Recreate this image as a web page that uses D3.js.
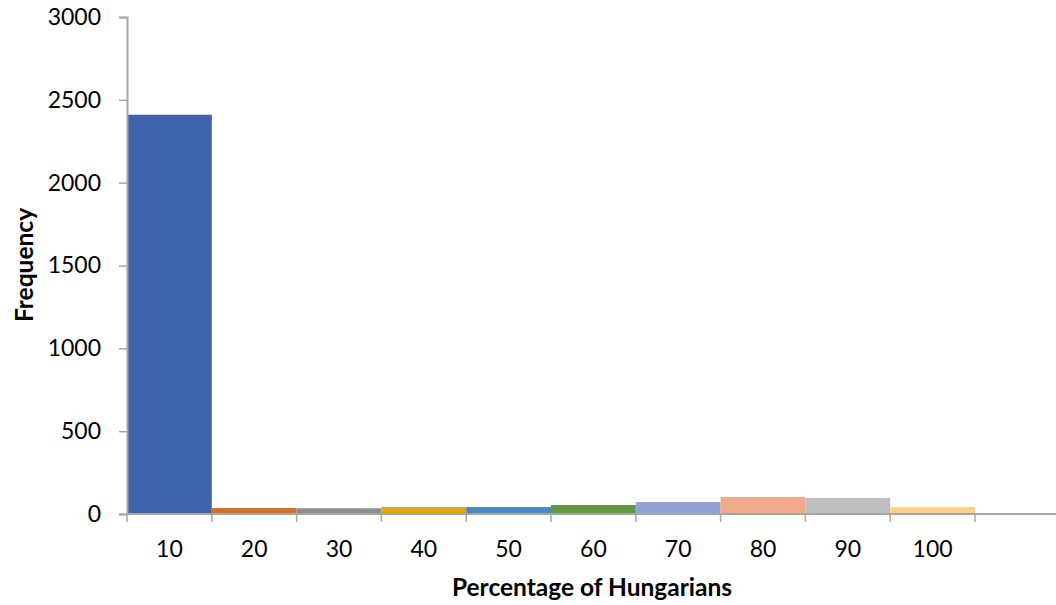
<!DOCTYPE html>
<html>
<head>
<meta charset="utf-8">
<script src="https://cdn.jsdelivr.net/npm/d3@7"></script>
<style>
  html, body { margin: 0; padding: 0; background: #fff; }
  svg { display: block; }
</style>
</head>
<body>
<svg id="chart" width="1056" height="605"></svg>
<script>
// Data
const categories = ["10", "20", "30", "40", "50", "60", "70", "80", "90", "100", ""];
const frequencies = [2410, 36, 35, 42, 42, 54, 72, 103, 97, 42, 0];
const barColors = ["#3C63AC", "#D2702C", "#8F8F8F", "#E0AA00", "#4A88C2", "#5F993C",
                   "#8FA3D5", "#F0A989", "#BEBEBE", "#FDD187", "#FFFFFF"];
const yTicks = [0, 500, 1000, 1500, 2000, 2500, 3000];
const xTitle = "Percentage of Hungarians";
const yTitle = "Frequency";

(function () {
const svg = d3.select("#chart");
const mLeft = 127, mTop = 17, mBottom = 514;
const step = 84.8;
const mRight = mLeft + step * categories.length;

const x = d3.scaleBand().domain(categories.map((c, i) => i)).range([mLeft, mRight]).padding(0);
const y = d3.scaleLinear().domain([0, 3000]).range([mBottom, mTop]);

// Bars
svg.append("g").selectAll("rect")
  .data(frequencies)
  .join("rect")
  .attr("x", (d, i) => x(i))
  .attr("width", x.bandwidth())
  .attr("y", d => y(d))
  .attr("height", d => y(0) - y(d))
  .attr("fill", (d, i) => barColors[i]);

const axisColor = "#A6A6A6";
const font = "Lato, 'Open Sans', sans-serif";

// Y axis
const yAxis = svg.append("g")
  .attr("transform", `translate(${mLeft},0)`)
  .call(d3.axisLeft(y).tickValues(yTicks).tickSize(8).tickPadding(18).tickFormat(d3.format("d")));
yAxis.select(".domain").attr("stroke", axisColor).attr("stroke-width", 2);
yAxis.selectAll(".tick line").attr("stroke", axisColor).attr("stroke-width", 1.5);
yAxis.selectAll(".tick text").attr("font-size", 23).attr("fill", "#000").attr("font-family", font);

// X axis (category boundaries as ticks)
const boundaries = d3.range(categories.length + 1).map(i => mLeft + i * step);
const xAxis = svg.append("g").attr("transform", `translate(0,${mBottom})`);
xAxis.append("line")
  .attr("x1", mLeft).attr("x2", mRight)
  .attr("stroke", axisColor).attr("stroke-width", 2);
xAxis.selectAll("line.tk")
  .data(boundaries)
  .join("line")
  .attr("class", "tk")
  .attr("x1", d => d).attr("x2", d => d)
  .attr("y1", 0).attr("y2", 8)
  .attr("stroke", axisColor).attr("stroke-width", 1.5);
xAxis.selectAll("text")
  .data(categories)
  .join("text")
  .attr("x", (d, i) => x(i) + x.bandwidth() / 2)
  .attr("y", 43)
  .attr("text-anchor", "middle")
  .attr("font-family", font)
  .attr("font-size", 23)
  .attr("fill", "#000")
  .text(d => d);

// Axis titles
svg.append("text")
  .attr("x", 592).attr("y", 596)
  .attr("text-anchor", "middle")
  .attr("font-family", font)
  .attr("font-weight", "bold")
  .attr("font-size", 24.5)
  .attr("fill", "#000")
  .text(xTitle);

svg.append("text")
  .attr("transform", "translate(33,265) rotate(-90)")
  .attr("text-anchor", "middle")
  .attr("font-family", font)
  .attr("font-weight", "bold")
  .attr("font-size", 24.5)
  .attr("fill", "#000")
  .text(yTitle);
})();
</script>
</body>
</html>
